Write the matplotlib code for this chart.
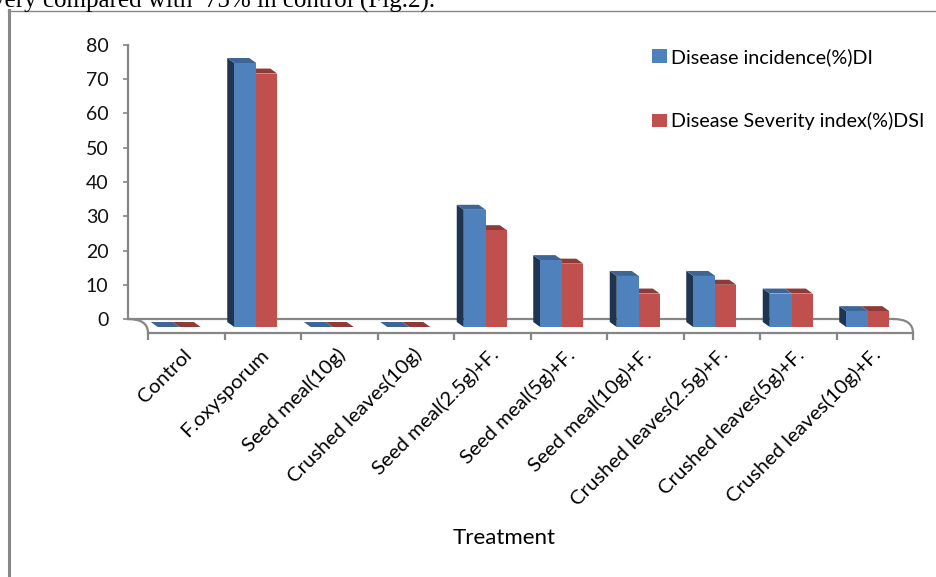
import matplotlib
matplotlib.use('Agg')
import matplotlib.pyplot as plt
import matplotlib.transforms as mtransforms
from matplotlib.patches import Polygon, PathPatch
from matplotlib.path import Path
from matplotlib.lines import Line2D

# treatments and the two disease measures (%)
treatments = ['Control', 'F.oxysporum', 'Seed meal(10g)', 'Crushed leaves(10g)',
              'Seed meal(2.5g)+F.', 'Seed meal(5g)+F.', 'Seed meal(10g)+F.',
              'Crushed leaves(2.5g)+F.', 'Crushed leaves(5g)+F.', 'Crushed leaves(10g)+F.']
di = [0, 75, 0, 0, 33.3, 19, 14.5, 14.5, 9.5, 4.5]
dsi = [0, 72, 0, 0, 27.5, 18, 9.5, 12, 9.5, 4.5]
di_label = 'Disease incidence(%)DI'
dsi_label = 'Disease Severity index(%)DSI'
yticks = [0, 10, 20, 30, 40, 50, 60, 70, 80]

plt.rcParams['font.family'] = ['Lato', 'DejaVu Sans']

W, H = 936, 577
fig = plt.figure(figsize=(W / 100, H / 100), dpi=100)
fig.patch.set_facecolor('white')


def box(x0, y0, x1, y1):
    # pixel box (top-left origin) -> figure fraction rect
    return [x0 / W, 1 - y1 / H, (x1 - x0) / W, (y1 - y0) / H]


grey = '#868686'
blue, blue_top, blue_side = '#4F81BD', '#3D6696', '#1F3450'
red, red_top = '#C0504D', '#8E3A38'
label_size = 14.7

# back wall: value axis and floor back edge
ax = fig.add_axes(box(128, 45, 893, 319))
ax.set_ylim(0, 80)
ax.set_xlim(-0.5, len(treatments) - 0.5)
ax.patch.set_visible(False)
for s in ['top', 'right']:
    ax.spines[s].set_visible(False)
for s in ['left', 'bottom']:
    ax.spines[s].set_color(grey)
    ax.spines[s].set_linewidth(1.6)
ax.set_yticks(yticks)
ax.set_xticks([])
ax.tick_params(axis='y', direction='out', length=3.6, width=1.2, color=grey,
               pad=10.5, labelsize=14, labelcolor='#111111')

# front plane, where the bars stand
axf = fig.add_axes(box(148, 45.4, 913, 327))
axf.set_ylim(0, 80)
axf.set_xlim(-0.5, len(treatments) - 0.5)
axf.patch.set_visible(False)
for s in ['top', 'right', 'left']:
    axf.spines[s].set_visible(False)
y_front = -6 / 3.52
axf.spines['bottom'].set_position(('data', y_front))
axf.spines['bottom'].set_color(grey)
axf.spines['bottom'].set_linewidth(1.6)
axf.set_yticks([])

xs = list(range(len(treatments)))
unit_x = 76.5
wb, wr, shift = 22 / unit_x, 21 / unit_x, -6.5 / unit_x
dx, dy = -7 / unit_x, 5 / 3.52

blue_left = [x + shift - wb for x in xs]
red_left = [x + shift for x in xs]

# red bars first so the blue ones cover their hidden corners
for x0, v in zip(red_left, dsi):
    top = [(x0, v), (x0 + wr, v), (x0 + wr + dx, v + dy), (x0 + dx, v + dy)]
    axf.add_patch(Polygon(top, closed=True, facecolor=red_top, edgecolor='none', clip_on=False))
bars_r = axf.bar(red_left, dsi, width=wr, align='edge', color=red, label=dsi_label, clip_on=False)

for x0, v in zip(blue_left, di):
    side = [(x0, 0), (x0, v), (x0 + dx, v + dy), (x0 + dx, dy)]
    axf.add_patch(Polygon(side, closed=True, facecolor=blue_side, edgecolor='none', clip_on=False))
    top = [(x0, v), (x0 + wb, v), (x0 + wb + dx, v + dy), (x0 + dx, v + dy)]
    axf.add_patch(Polygon(top, closed=True, facecolor=blue_top, edgecolor='none', clip_on=False))
bars_b = axf.bar(blue_left, di, width=wb, align='edge', color=blue, label=di_label, clip_on=False)

# category axis along the front edge of the floor
axf.set_xticks(xs)
axf.set_xticks([x - 0.5 for x in xs] + [xs[-1] + 0.5], minor=True)
axf.set_xticklabels(treatments, rotation=45, ha='right', va='center',
                    rotation_mode='anchor', fontsize=label_size)
axf.tick_params(axis='x', which='major', length=0, pad=13.5)
axf.tick_params(axis='x', which='minor', direction='out', length=5, width=1.6, color=grey)
nudge = mtransforms.ScaledTranslation(3 / 100, 0, fig.dpi_scale_trans)
for lbl in axf.get_xticklabels():
    lbl.set_transform(lbl.get_transform() + nudge)

# rounded floor corners joining back edge to front edge
for side_x, end_x in [(0, -0.5), (1, len(treatments) - 0.5)]:
    p0 = ax.transAxes.transform((side_x, 0))
    p1 = axf.transData.transform((end_x, y_front))
    path = Path([p0, (p1[0], p0[1]), p1], [Path.MOVETO, Path.CURVE3, Path.CURVE3])
    fig.add_artist(PathPatch(path, facecolor='none', edgecolor=grey, lw=1.6,
                             transform=mtransforms.IdentityTransform()))

axf.legend(handles=[bars_b, bars_r], loc='upper left',
           bbox_to_anchor=(652 / W, 1 - 48 / H), bbox_transform=fig.transFigure,
           frameon=False, fontsize=14.2, handlelength=0.75, handleheight=0.65,
           handletextpad=0.2, labelspacing=2.35, borderpad=0, borderaxespad=0)

fig.text(504 / W, 1 - 538 / H, 'Treatment', ha='center', va='center', fontsize=16)

# running text of the page above the chart frame
fig.text(-8 / W, 1 - 8 / H, 'very compared with  75% in control (Fig.2).',
         ha='left', va='baseline', family='Liberation Serif', fontsize=18)
fig.add_artist(Line2D([8.5 / W, 8.5 / W], [0, 1 - 10 / H], transform=fig.transFigure,
                      color='#888888', lw=2.2))
fig.add_artist(Line2D([8 / W, 1], [1 - 10.5 / H, 1 - 10.5 / H], transform=fig.transFigure,
                      color='#888888', lw=1))

fig.savefig('out.png', dpi=100)
